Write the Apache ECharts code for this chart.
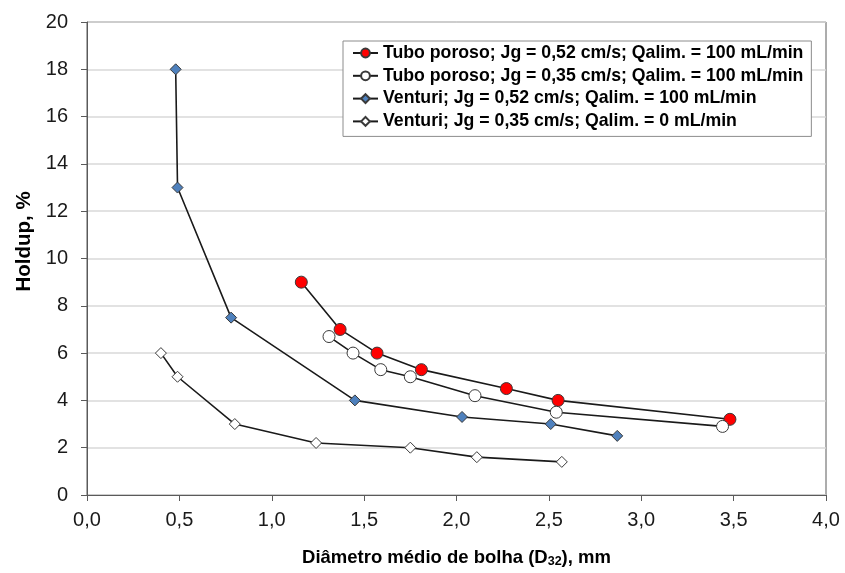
<!DOCTYPE html>
<html>
<head>
<meta charset="utf-8">
<script src="https://cdn.jsdelivr.net/npm/echarts@6/dist/echarts.min.js"></script>
<style>
  html, body { margin: 0; padding: 0; background: #ffffff; }
  #chart { width: 845px; height: 573px; }
</style>
</head>
<body>
<div id="chart"></div>
<script>
// Diâmetro médio de bolha (mm) e holdup (%) para cada ensaio
const tuboJg052X = [1.16, 1.37, 1.57, 1.81, 2.27, 2.55, 3.48];
const tuboJg052Y = [9.0, 7.0, 6.0, 5.3, 4.5, 4.0, 3.2];

const tuboJg035X = [1.31, 1.44, 1.59, 1.75, 2.10, 2.54, 3.44];
const tuboJg035Y = [6.7, 6.0, 5.3, 5.0, 4.2, 3.5, 2.9];

const venturiJg052X = [0.48, 0.49, 0.78, 1.45, 2.03, 2.51, 2.87];
const venturiJg052Y = [18.0, 13.0, 7.5, 4.0, 3.3, 3.0, 2.5];

const venturiJg035X = [0.40, 0.49, 0.80, 1.24, 1.75, 2.11, 2.57];
const venturiJg035Y = [6.0, 5.0, 3.0, 2.2, 2.0, 1.6, 1.4];

const seriesNames = [
  'Tubo poroso; Jg = 0,52 cm/s; Qalim. = 100 mL/min',
  'Tubo poroso; Jg = 0,35 cm/s; Qalim. = 100 mL/min',
  'Venturi; Jg = 0,52 cm/s; Qalim. = 100 mL/min',
  'Venturi; Jg = 0,35 cm/s; Qalim. = 0 mL/min'
];

const pairs = (xs, ys) => xs.map((x, i) => [x, ys[i]]);

const chart = echarts.init(document.getElementById('chart'), null, { renderer: 'canvas' });

const FONT = 'Liberation Sans, Arial, sans-serif';
const lineStyle = { color: '#1a1a1a', width: 1.6 };
const fmtComma = (v, d) => v.toFixed(d).replace('.', ',');

function makeSeries(name, data, symbol, size, fill) {
  return {
    name: name,
    type: 'line',
    data: data,
    symbol: symbol,
    symbolSize: size,
    showAllSymbol: true,
    lineStyle: lineStyle,
    itemStyle: { color: fill, borderColor: '#3a3a3a', borderWidth: 1 },
    emphasis: { disabled: true },
    animation: false,
    z: 3
  };
}

chart.setOption({
  backgroundColor: '#ffffff',
  animation: false,
  grid: {
    left: 87, right: 19, top: 22, bottom: 76,
    show: true, borderColor: '#5a5a5a', borderWidth: 1
  },
  legend: {
    left: 343, top: 41,
    orient: 'vertical',
    itemWidth: 25, itemHeight: 11, itemGap: 4.8,
    padding: [3, 8, 6, 9],
    backgroundColor: '#ffffff',
    borderColor: '#8c8c8c', borderWidth: 1,
    textStyle: { fontFamily: FONT, fontWeight: 'bold', fontSize: 17.7, lineHeight: 18, color: '#000000' },
    data: seriesNames
  },
  xAxis: {
    type: 'value', min: 0, max: 4, interval: 0.5,
    name: 'Diâmetro médio de bolha (D{sub|32}), mm',
    nameLocation: 'middle', nameGap: 52,
    nameTextStyle: {
      fontFamily: FONT, fontWeight: 'bold', fontSize: 18.5, color: '#000000',
      rich: { sub: { fontFamily: FONT, fontWeight: 'bold', fontSize: 12.5, color: '#000000', verticalAlign: 'bottom', padding: [8, 0, 0, 0] } }
    },
    axisLine: { lineStyle: { color: '#5a5a5a', width: 1 } },
    axisTick: { show: true, inside: false, length: 6, lineStyle: { color: '#5a5a5a' } },
    splitLine: { show: false },
    axisLabel: { margin: 15, fontFamily: FONT, fontSize: 20, color: '#1a1a1a', formatter: v => fmtComma(v, 1) }
  },
  yAxis: {
    type: 'value', min: 0, max: 20, interval: 2,
    name: 'Holdup, %',
    nameLocation: 'middle', nameGap: 47,
    nameTextStyle: { fontFamily: FONT, fontWeight: 'bold', fontSize: 20.5, color: '#000000', padding: [0, 0, 0, 34] },
    axisLine: { show: true, lineStyle: { color: '#5a5a5a', width: 1 } },
    axisTick: { show: true, inside: false, length: 6, lineStyle: { color: '#5a5a5a' } },
    splitLine: { show: true, lineStyle: { color: '#d9d9d9', width: 1.5 } },
    axisLabel: { margin: 19, fontFamily: FONT, fontSize: 20, color: '#1a1a1a' }
  },
  series: [
    makeSeries(seriesNames[0], pairs(tuboJg052X, tuboJg052Y), 'circle', 12, '#ff0000'),
    makeSeries(seriesNames[1], pairs(tuboJg035X, tuboJg035Y), 'circle', 12, '#ffffff'),
    makeSeries(seriesNames[2], pairs(venturiJg052X, venturiJg052Y), 'diamond', 11, '#4f81bd'),
    makeSeries(seriesNames[3], pairs(venturiJg035X, venturiJg035Y), 'diamond', 11, '#ffffff')
  ]
});
</script>
</body>
</html>
